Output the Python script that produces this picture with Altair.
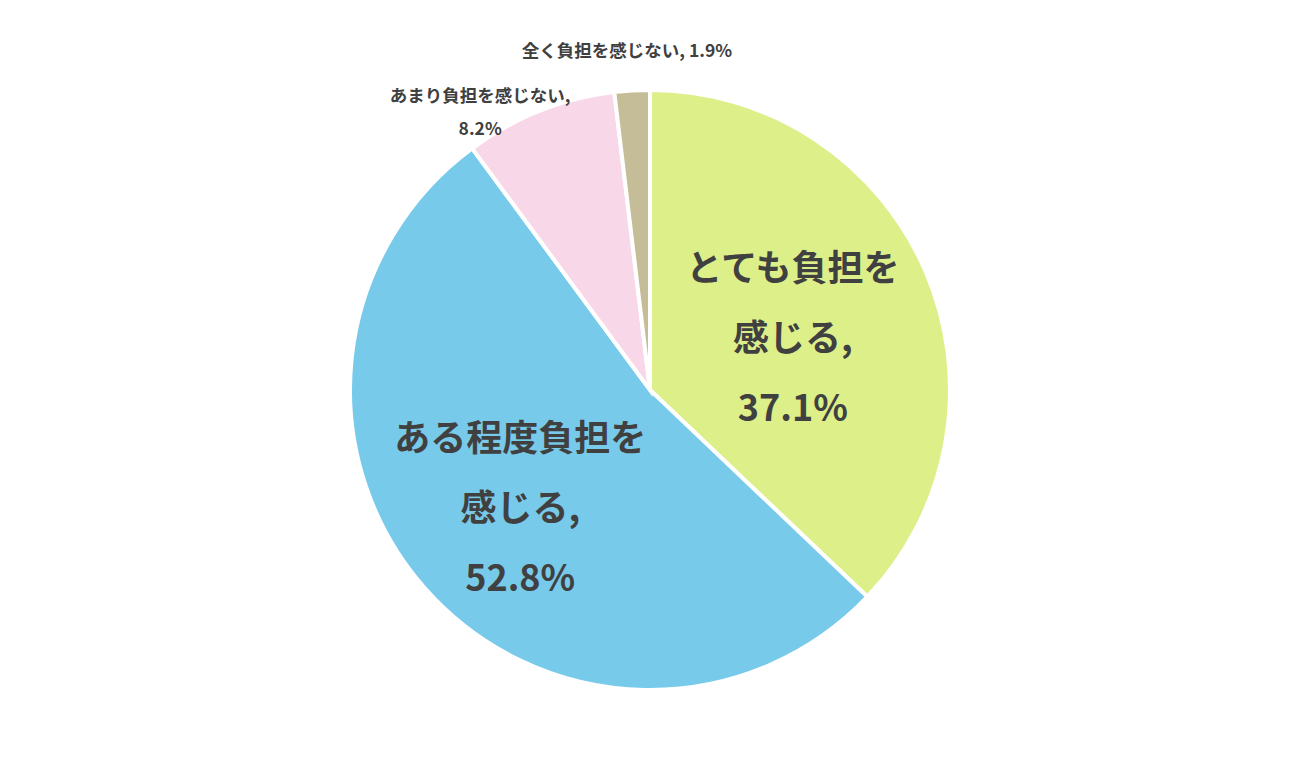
import altair as alt
import pandas as pd

categories = ["とても負担を感じる", "ある程度負担を感じる", "あまり負担を感じない", "全く負担を感じない"]
values = [37.1, 52.8, 8.2, 1.9]
colors = ["#DCEF89", "#78CAEA", "#F8D8E8", "#C5BC98"]
label_texts = ["とても負担を\n感じる,\n37.1%", "ある程度負担を\n感じる,\n52.8%", "あまり負担を感じない,\n8.2%", "全く負担を感じない, 1.9%"]

df = pd.DataFrame({
    "category": categories,
    "value": values,
    "order": list(range(len(categories))),
    "label": label_texts,
})

W, H = 1284, 764
base = alt.Chart(df).encode(
    theta=alt.Theta("value:Q", stack=True),
    order=alt.Order("order:Q"),
)

arcs = base.mark_arc(outerRadius=300, stroke="white", strokeWidth=4).encode(
    color=alt.Color("category:N", scale=alt.Scale(domain=categories, range=colors), legend=None)
)

def label_layer(idx, radius, dx, dy, size, line_height):
    cat = categories[idx]
    return base.transform_calculate(
        txt=f"datum.category === '{cat}' ? datum.label : ''"
    ).mark_text(
        radius=radius, dx=dx, dy=dy, fontSize=size, fontWeight="bold",
        font="Noto Sans CJK JP", color="#404040", lineBreak="\n",
        lineHeight=line_height, align="center", baseline="middle",
    ).encode(text="txt:N")

layers = [
    arcs,
    label_layer(0, 150, 5, -61, 36, 70),
    label_layer(1, 177, 3, -67, 36, 70),
    label_layer(2, 320, -52, 5, 17.5, 33),
    label_layer(3, 320, -4, -19, 17.5, 20),
]

chart = alt.layer(*layers).properties(
    width=W, height=H, padding=0, autosize=alt.AutoSizeParams(type="none"),
    background="white",
).configure_view(stroke=None)

chart.save("out.html", embed_options={"renderer": "svg", "actions": False})
